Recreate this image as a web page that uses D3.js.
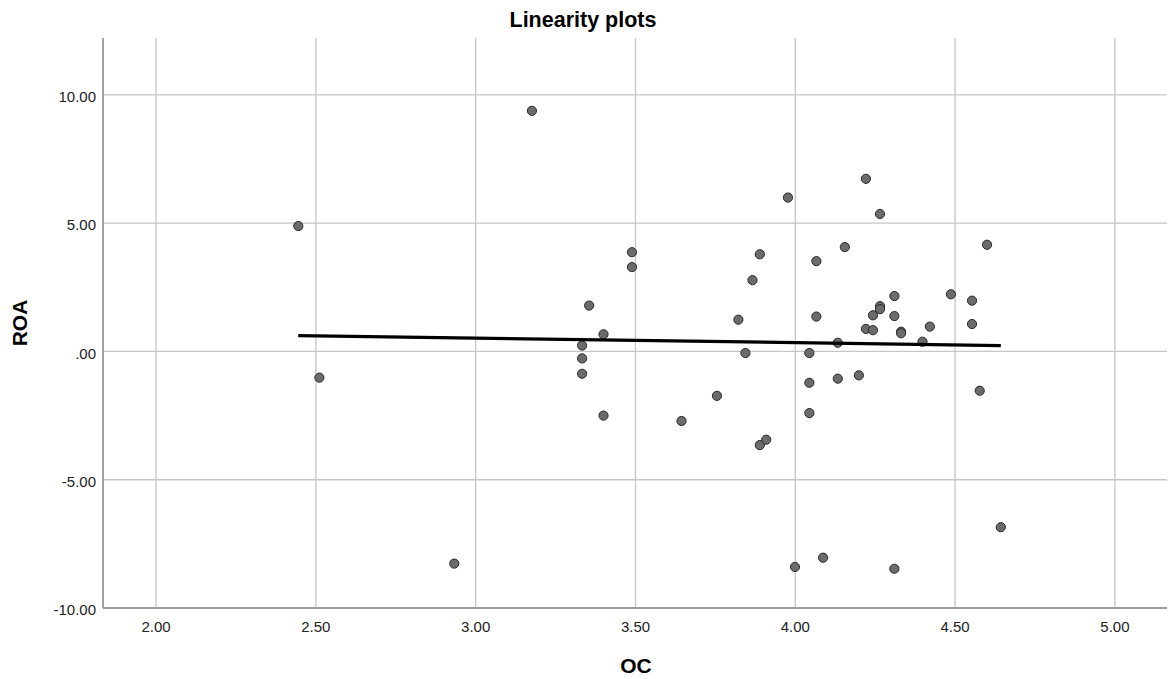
<!DOCTYPE html>
<html>
<head>
<meta charset="utf-8">
<script src="https://cdn.jsdelivr.net/npm/d3@7"></script>
<style>
  body { margin: 0; background: #fff; }
  svg { display: block; font-family: "Liberation Sans", Arial, sans-serif; }
  .grid line { stroke: #c6c6c6; stroke-width: 1.3; }
  .axis-line { stroke: #8a8a8a; stroke-width: 1.6; }
  .tick-label { font-size: 15px; fill: #222; }
</style>
</head>
<body>
<div id="chart"></div>
<script>
// OC (x) and ROA (y) values for each case
const ocValues = [
  2.445, 2.511, 2.933, 3.176,
  3.333, 3.333, 3.333, 3.355, 3.400, 3.400, 3.489, 3.489,
  3.644, 3.755, 3.822, 3.844, 3.866, 3.889, 3.889, 3.909, 3.977,
  3.999, 4.044, 4.044, 4.044, 4.066, 4.066, 4.087, 4.133, 4.133,
  4.155, 4.199, 4.221, 4.221, 4.243, 4.243, 4.265, 4.265, 4.265,
  4.310, 4.310, 4.310, 4.331, 4.331, 4.398, 4.421, 4.487,
  4.553, 4.553, 4.577, 4.600, 4.643
];
const roaValues = [
  4.89, -1.02, -8.27, 9.38,
  0.23, -0.27, -0.87, 1.79, 0.67, -2.50, 3.87, 3.29,
  -2.71, -1.73, 1.24, -0.06, 2.78, 3.79, -3.65, -3.44, 6.00,
  -8.40, -0.06, -1.22, -2.40, 3.52, 1.36, -8.04, 0.34, -1.06,
  4.07, -0.93, 6.73, 0.88, 1.41, 0.83, 5.36, 1.77, 1.65,
  2.16, 1.38, -8.47, 0.77, 0.71, 0.38, 0.97, 2.23,
  1.98, 1.07, -1.53, 4.16, -6.85
];
// fitted line: ROA = intercept + slope * OC
const fitIntercept = 1.053;
const fitSlope = -0.177;

const xTicks = [2.0, 2.5, 3.0, 3.5, 4.0, 4.5, 5.0];
const yTicks = [10, 5, 0, -5, -10];
const xDomain = [1.834, 5.163];
const yDomain = [-10, 12.22];

const width = 1169, height = 679;
const margin = { top: 38, right: 2, bottom: 71, left: 103 };
const innerW = width - margin.left - margin.right;
const innerH = height - margin.top - margin.bottom;

const svg = d3.select('#chart').append('svg')
  .attr('width', width)
  .attr('height', height);

const g = svg.append('g')
  .attr('transform', 'translate(' + margin.left + ',' + margin.top + ')');

const x = d3.scaleLinear().domain(xDomain).range([0, innerW]);
const y = d3.scaleLinear().domain(yDomain).range([innerH, 0]);

// SPSS style: ".00", "-5.00"
const fmt = v => {
  const s = v.toFixed(2);
  return s.replace(/^(-?)0\./, '$1.');
};

// grid
const grid = g.append('g').attr('class', 'grid');
grid.selectAll('.gx').data(xTicks).enter().append('line')
  .attr('x1', d => x(d)).attr('x2', d => x(d))
  .attr('y1', 0).attr('y2', innerH);
grid.selectAll('.gy').data(yTicks).enter().append('line')
  .attr('x1', 0).attr('x2', innerW)
  .attr('y1', d => y(d)).attr('y2', d => y(d));

// axes lines
g.append('line').attr('class', 'axis-line')
  .attr('x1', 0).attr('x2', 0).attr('y1', 0).attr('y2', innerH);
g.append('line').attr('class', 'axis-line')
  .attr('x1', 0).attr('x2', innerW).attr('y1', innerH).attr('y2', innerH);

// tick labels
g.selectAll('.ylab').data(yTicks).enter().append('text')
  .attr('class', 'tick-label')
  .attr('x', -7)
  .attr('y', d => y(d))
  .attr('dy', '0.48em')
  .attr('text-anchor', 'end')
  .text(fmt);
g.selectAll('.xlab').data(xTicks).enter().append('text')
  .attr('class', 'tick-label')
  .attr('x', d => x(d))
  .attr('y', innerH + 24)
  .attr('text-anchor', 'middle')
  .text(fmt);

// points
const points = ocValues.map((v, i) => ({ oc: v, roa: roaValues[i] }));
g.selectAll('.pt').data(points).enter().append('circle')
  .attr('class', 'pt')
  .attr('cx', d => x(d.oc))
  .attr('cy', d => y(d.roa))
  .attr('r', 4.6)
  .attr('fill', '#6b6b6b')
  .attr('stroke', '#2a2a2a')
  .attr('stroke-width', 1);

// fit line over the data range
const xr = d3.extent(ocValues);
g.append('line')
  .attr('x1', x(xr[0])).attr('y1', y(fitIntercept + fitSlope * xr[0]))
  .attr('x2', x(xr[1])).attr('y2', y(fitIntercept + fitSlope * xr[1]))
  .attr('stroke', '#000')
  .attr('stroke-width', 3.3);

// titles
svg.append('text')
  .attr('x', 583)
  .attr('y', 27)
  .attr('text-anchor', 'middle')
  .style('font-size', '21.5px')
  .style('font-weight', 'bold')
  .text('Linearity plots');

svg.append('text')
  .attr('x', margin.left + innerW / 2 + 1)
  .attr('y', 673)
  .attr('text-anchor', 'middle')
  .style('font-size', '21px')
  .style('font-weight', 'bold')
  .text('OC');

svg.append('text')
  .attr('transform', 'translate(27,' + (margin.top + innerH / 2) + ') rotate(-90)')
  .attr('text-anchor', 'middle')
  .style('font-size', '21px')
  .style('font-weight', 'bold')
  .text('ROA');
</script>
</body>
</html>
